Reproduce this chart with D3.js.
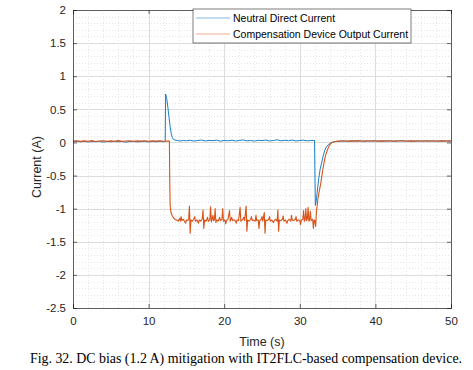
<!DOCTYPE html>
<html>
<head>
<meta charset="utf-8">
<script src="https://cdn.jsdelivr.net/npm/d3@7"></script>
<style>
  body { margin: 0; background: #fff; }
  svg { display: block; }
</style>
</head>
<body>
<div id="chart"></div>
<script>
// Series as [time (s), current (A)]
const neutralCurrent = [
  [0, 0.012], [0.5, 0.018], [1, 0.01], [1.5, 0.016], [2, 0.008], [2.5, 0.015], [3, 0.012],
  [3.5, 0.018], [4, 0.006], [4.5, 0.014], [5, 0.012], [5.5, 0.017], [6, 0.01], [6.5, 0.015],
  [7, 0.005], [7.5, 0.014], [8, 0.016], [8.5, 0.009], [9, 0.013], [9.5, 0.018], [10, 0.008],
  [10.5, 0.015], [11, 0.011], [11.5, 0.017], [12, 0.012], [12.2, 0.015],
  [12.25, 0.73], [12.4, 0.66], [12.55, 0.53], [12.7, 0.38], [12.85, 0.24], [13, 0.13],
  [13.15, 0.07], [13.3, 0.045], [13.5, 0.035], [13.8, 0.03], [14.2, 0.022], [14.6, 0.03],
  [15, 0.025], [15.5, 0.033], [16, 0.02], [16.5, 0.03], [17, 0.036], [17.5, 0.022],
  [18, 0.03], [18.5, 0.027], [19, 0.035], [19.5, 0.02], [20, 0.03], [20.5, 0.025],
  [21, 0.034], [21.5, 0.022], [22, 0.03], [22.5, 0.038], [23, 0.024], [23.5, 0.03],
  [24, 0.02], [24.5, 0.033], [25, 0.028], [25.5, 0.036], [26, 0.022], [26.5, 0.03],
  [27, 0.04], [27.5, 0.025], [28, 0.032], [28.5, 0.027], [29, 0.036], [29.5, 0.022],
  [30, 0.03], [30.5, 0.034], [31, 0.024], [31.5, 0.03], [31.95, 0.03],
  [32.05, -0.95], [32.15, -0.9], [32.3, -0.75], [32.5, -0.55], [32.7, -0.4], [32.9, -0.3],
  [33.1, -0.2], [33.3, -0.12], [33.5, -0.07], [33.8, -0.03], [34.2, 0], [34.6, 0.012],
  [35, 0.018], [35.5, 0.02], [36, 0.022], [36.5, 0.018], [37, 0.025], [37.5, 0.02],
  [38, 0.024], [38.5, 0.017], [39, 0.023], [39.5, 0.02], [40, 0.026], [40.5, 0.019],
  [41, 0.023], [41.5, 0.021], [42, 0.025], [42.5, 0.018], [43, 0.022], [43.5, 0.026],
  [44, 0.02], [44.5, 0.024], [45, 0.018], [45.5, 0.023], [46, 0.021], [46.5, 0.025],
  [47, 0.019], [47.5, 0.023], [48, 0.02], [48.5, 0.024], [49, 0.021], [49.5, 0.023], [50, 0.02]
];

const compensationCurrent = [
  [0, 0.02], [0.5, 0.026], [1, 0.016], [1.5, 0.024], [2, 0.019], [2.5, 0.027], [3, 0.015],
  [3.5, 0.022], [4, 0.026], [4.5, 0.017], [5, 0.023], [5.5, 0.019], [6, 0.027], [6.5, 0.016],
  [7, 0.022], [7.5, 0.025], [8, 0.018], [8.5, 0.024], [9, 0.02], [9.5, 0.026], [10, 0.017],
  [10.5, 0.023], [11, 0.02], [11.5, 0.025], [12, 0.018], [12.5, 0.022], [12.75, 0.02],
  [12.8, -0.6], [12.85, -0.95], [12.95, -1.05], [13.1, -1.1], [13.3, -1.14], [13.5, -1.16],
  [13.7, -1.17], [13.9, -1.19], [14.1, -1.15], [14.2, -1.19], [14.3, -1.12], [14.4, -1.18],
  [14.6, -1.16], [14.8, -1.2], [14.9, -1.22], [15.0, -1.17], [15.2, -1.18], [15.3, -1.16],
  [15.4, -0.96], [15.5, -1.37], [15.6, -1.17], [15.8, -1.19], [16.0, -1.15], [16.1, -1.12],
  [16.2, -1.19], [16.4, -1.17], [16.6, -1.22], [16.7, -1.17], [16.9, -1.19], [17.1, -1.15],
  [17.2, -1.02], [17.3, -1.3], [17.4, -1.17], [17.6, -1.19], [17.8, -1.13], [17.9, -1.19],
  [18.1, -1.17], [18.2, -0.97], [18.3, -1.2], [18.4, -1.16], [18.5, -1.1], [18.6, -1.18],
  [18.7, -1.17], [18.8, -1.0], [18.9, -1.21], [19.0, -1.17], [19.2, -1.19], [19.4, -1.13],
  [19.5, -1.18], [19.7, -1.16], [19.8, -1.0], [19.9, -1.19], [20.1, -1.17], [20.2, -1.23],
  [20.3, -1.18], [20.5, -1.16], [20.7, -1.03], [20.8, -1.19], [21.0, -1.13], [21.1, -1.18],
  [21.3, -1.17], [21.5, -1.19], [21.6, -1.22], [21.7, -1.17], [21.9, -1.18], [22.1, -0.98],
  [22.2, -1.19], [22.4, -1.17], [22.6, -1.13], [22.7, -1.18], [22.9, -0.96], [23.0, -1.34],
  [23.1, -1.17], [23.3, -1.19], [23.5, -1.16], [23.6, -1.12], [23.7, -1.18], [23.9, -1.17],
  [24.1, -1.19], [24.2, -1.1], [24.3, -1.18], [24.5, -1.17], [24.6, -1.3], [24.7, -1.18],
  [24.9, -1.16], [25.0, -1.12], [25.1, -1.19], [25.3, -1.06], [25.4, -1.37], [25.5, -1.17],
  [25.7, -1.18], [25.9, -1.16], [26.0, -1.12], [26.1, -1.19], [26.3, -1.17], [26.5, -1.21],
  [26.6, -1.18], [26.8, -1.16], [27.0, -1.19], [27.1, -1.02], [27.2, -1.34], [27.3, -1.17],
  [27.5, -1.18], [27.7, -1.16], [27.8, -1.11], [27.9, -1.19], [28.1, -1.17], [28.3, -1.22],
  [28.4, -1.18], [28.6, -1.16], [28.8, -1.19], [28.9, -1.1], [29.0, -1.17], [29.2, -1.18],
  [29.4, -1.16], [29.5, -1.12], [29.6, -1.19], [29.8, -1.17], [30.0, -1.18], [30.1, -1.24],
  [30.2, -1.17], [30.4, -1.16], [30.5, -1.03], [30.6, -1.19], [30.7, -1.17], [30.8, -1.0],
  [30.9, -1.18], [31.0, -1.16], [31.1, -0.98], [31.2, -1.19], [31.3, -1.17], [31.4, -1.04],
  [31.5, -1.18], [31.7, -1.16], [31.8, -1.3], [31.9, -1.17], [32.0, -1.18], [32.1, -1.27],
  [32.2, -1.05], [32.4, -0.85], [32.6, -0.72], [32.8, -0.6], [33.0, -0.44], [33.2, -0.31],
  [33.4, -0.2], [33.6, -0.13], [33.8, -0.07], [34.0, -0.03], [34.3, 0], [34.7, 0.015],
  [35.2, 0.02], [35.7, 0.026], [36.2, 0.019], [36.7, 0.024], [37.2, 0.02], [37.7, 0.027],
  [38.2, 0.018], [38.7, 0.024], [39.2, 0.021], [39.7, 0.026], [40.2, 0.019], [40.7, 0.023],
  [41.2, 0.02], [41.7, 0.026], [42.2, 0.018], [42.7, 0.024], [43.2, 0.021], [43.7, 0.025],
  [44.2, 0.019], [44.7, 0.024], [45.2, 0.02], [45.7, 0.026], [46.2, 0.018], [46.7, 0.023],
  [47.2, 0.021], [47.7, 0.025], [48.2, 0.019], [48.7, 0.024], [49.2, 0.02], [49.7, 0.025], [50, 0.021]
];

const xTicks = [0, 10, 20, 30, 40, 50];
const yTicks = [-2.5, -2, -1.5, -1, -0.5, 0, 0.5, 1, 1.5, 2];
const seriesNames = ["Neutral Direct Current", "Compensation Device Output Current"];
const seriesColors = ["#0072BD", "#D95319"];

const W = 473, H = 370;
const margin = { top: 10, right: 22, bottom: 62, left: 73 };
const width = W - margin.left - margin.right;
const height = H - margin.top - margin.bottom;

const x = d3.scaleLinear().domain([0, 50]).range([0, width]);
const y = d3.scaleLinear().domain([-2.5, 2]).range([height, 0]);

const svg = d3.select("#chart").append("svg")
  .attr("width", W).attr("height", H);

const g = svg.append("g")
  .attr("transform", "translate(" + margin.left + "," + margin.top + ")");

g.append("rect").attr("width", width).attr("height", height).attr("fill", "#fff");

// minor grid (dotted)
const xMinor = d3.range(0, 50.01, 2).filter(function (d) { return d % 10 !== 0; });
const yMinor = d3.range(-2.5, 2.001, 0.1).filter(function (d) {
  return Math.abs(d * 2 - Math.round(d * 2)) > 1e-6;
});
g.append("g").selectAll("line").data(xMinor).enter().append("line")
  .attr("x1", function (d) { return Math.round(x(d)) + 0.5; })
  .attr("x2", function (d) { return Math.round(x(d)) + 0.5; })
  .attr("y1", 0).attr("y2", height)
  .attr("stroke", "#e6e6e6").attr("stroke-width", 1).attr("stroke-dasharray", "1,2");
g.append("g").selectAll("line").data(yMinor).enter().append("line")
  .attr("y1", function (d) { return Math.round(y(d)) + 0.5; })
  .attr("y2", function (d) { return Math.round(y(d)) + 0.5; })
  .attr("x1", 0).attr("x2", width)
  .attr("stroke", "#e6e6e6").attr("stroke-width", 1).attr("stroke-dasharray", "1,2");

// major grid
g.append("g").selectAll("line").data(xTicks).enter().append("line")
  .attr("x1", function (d) { return Math.round(x(d)) + 0.5; })
  .attr("x2", function (d) { return Math.round(x(d)) + 0.5; })
  .attr("y1", 0).attr("y2", height)
  .attr("stroke", "#dcdcdc").attr("stroke-width", 1);
g.append("g").selectAll("line").data(yTicks).enter().append("line")
  .attr("y1", function (d) { return Math.round(y(d)) + 0.5; })
  .attr("y2", function (d) { return Math.round(y(d)) + 0.5; })
  .attr("x1", 0).attr("x2", width)
  .attr("stroke", "#dcdcdc").attr("stroke-width", 1);

// clip the data
svg.append("defs").append("clipPath").attr("id", "plotClip")
  .append("rect").attr("width", width).attr("height", height);

const line = d3.line()
  .x(function (d) { return x(d[0]); })
  .y(function (d) { return y(d[1]); });

const plot = g.append("g").attr("clip-path", "url(#plotClip)");
[neutralCurrent, compensationCurrent].forEach(function (s, i) {
  plot.append("path")
    .datum(s)
    .attr("d", line)
    .attr("fill", "none")
    .attr("stroke", seriesColors[i])
    .attr("stroke-width", i === 1 ? 1.1 : 0.9)
    .attr("stroke-linejoin", "round");
});

// axes
const axisColor = "#262626";
g.append("g")
  .attr("transform", "translate(0," + height + ")")
  .call(d3.axisBottom(x).tickValues(xTicks).tickSize(-4).tickPadding(9).tickFormat(d3.format("d")));
g.append("g")
  .call(d3.axisLeft(y).tickValues(yTicks).tickSize(-4).tickPadding(7).tickFormat(function (d) { return String(d); }));
g.append("g")
  .call(d3.axisTop(x).tickValues(xTicks).tickSize(-4).tickFormat(""));
g.append("g")
  .attr("transform", "translate(" + width + ",0)")
  .call(d3.axisRight(y).tickValues(yTicks).tickSize(-4).tickFormat(""));

g.selectAll(".domain").attr("stroke", axisColor).attr("stroke-width", 0.7);
g.selectAll(".tick line").attr("stroke", axisColor).attr("stroke-width", 0.7);
g.selectAll(".tick text")
  .attr("fill", axisColor)
  .style("font-family", "'Liberation Sans', Arial, sans-serif")
  .style("font-size", "11.5px");

// axis labels
svg.append("text")
  .attr("x", margin.left + width / 2)
  .attr("y", 346)
  .attr("text-anchor", "middle")
  .attr("fill", axisColor)
  .style("font-family", "'Liberation Sans', Arial, sans-serif")
  .style("font-size", "12.5px")
  .text("Time (s)");

svg.append("text")
  .attr("transform", "translate(41,167) rotate(-90)")
  .attr("text-anchor", "middle")
  .attr("fill", axisColor)
  .style("font-family", "'Liberation Sans', Arial, sans-serif")
  .style("font-size", "12.5px")
  .text("Current (A)");

// legend
const legend = svg.append("g").attr("transform", "translate(193,9)");
legend.append("rect")
  .attr("width", 218).attr("height", 34)
  .attr("fill", "#fff").attr("stroke", axisColor).attr("stroke-width", 0.6);
seriesNames.forEach(function (name, i) {
  const ly = 9 + i * 16;
  legend.append("line")
    .attr("x1", 3).attr("x2", 37).attr("y1", ly).attr("y2", ly)
    .attr("stroke", seriesColors[i]).attr("stroke-width", 0.8).attr("opacity", 0.6);
  legend.append("text")
    .attr("x", 40).attr("y", ly + 4)
    .attr("fill", "#000")
    .style("font-family", "'Liberation Sans', Arial, sans-serif")
    .style("font-size", "10.5px")
    .text(name);
});

// caption
svg.append("text")
  .attr("x", 246)
  .attr("y", 363)
  .attr("text-anchor", "middle")
  .attr("fill", "#000")
  .style("font-family", "'Liberation Serif', 'Times New Roman', serif")
  .style("font-size", "13.9px")
  .text("Fig. 32. DC bias (1.2 A) mitigation with IT2FLC-based compensation device.");
</script>
</body>
</html>
